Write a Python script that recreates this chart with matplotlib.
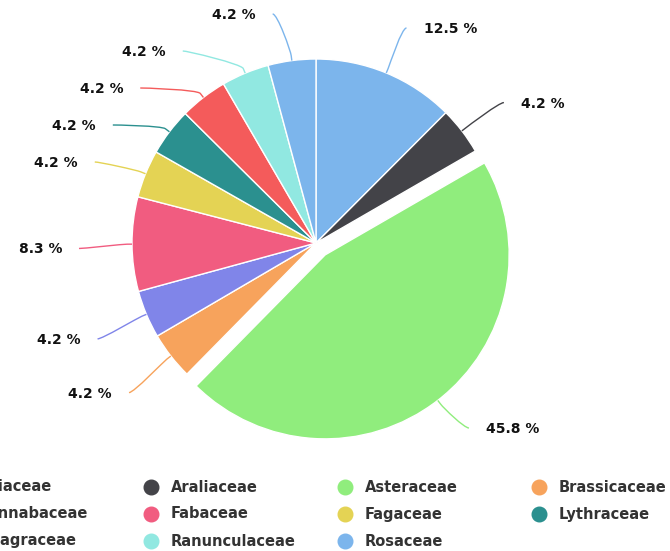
import numpy as np
import matplotlib
matplotlib.use("Agg")
import matplotlib.pyplot as plt
from matplotlib.path import Path
from matplotlib.patches import PathPatch

# share of species per plant family (%), clockwise from 12 o'clock
families = ["Apiaceae", "Araliaceae", "Asteraceae", "Brassicaceae", "Cannabaceae",
            "Fabaceae", "Fagaceae", "Lythraceae", "Onagraceae", "Ranunculaceae", "Rosaceae"]
shares = [12.5, 4.2, 45.8, 4.2, 4.2, 8.3, 4.2, 4.2, 4.2, 4.2, 4.2]
colors = ["#7cb5ec", "#434348", "#90ed7d", "#f7a35c", "#8085e9", "#f15c80",
          "#e4d354", "#2b908f", "#f45b5b", "#91e8e1", "#7cb5ec"]
sliced = "Asteraceae"

W, H = 670, 551
CX, CY, R = 316, 243, 184          # pixel coords, y measured from top
OFFSET = 15                        # sliced slice offset
LAB_CY, LAB_R, GAP = 247, 237, 37  # label circle and min label spacing
LAB_TOP, LAB_BOT = 14, 428

fig = plt.figure(figsize=(W / 100, H / 100), dpi=100)
ax = fig.add_axes([0, 0, 1, 1])
wedges, _ = ax.pie(shares, colors=colors, startangle=90, counterclock=False,
                   center=(CX, H - CY), radius=R,
                   explode=[OFFSET if f == sliced else 0 for f in families],
                   wedgeprops=dict(edgecolor="white", linewidth=1))
ax.set_xlim(0, W); ax.set_ylim(0, H); ax.axis("off")


def spread(nat, lo, hi):
    # place labels near their natural y with at least GAP between them
    def start(g):
        s = np.mean([nat[j] - GAP * k for k, j in enumerate(g)])
        return min(max(s, lo), hi - GAP * (len(g) - 1))
    groups = []
    for i in np.argsort(nat):
        groups.append([i])
        while len(groups) > 1 and start(groups[-2]) + GAP * len(groups[-2]) > start(groups[-1]):
            last = groups.pop(); groups[-1] += last
    pos = {}
    for g in groups:
        s = start(g)
        for k, j in enumerate(g):
            pos[j] = s + GAP * k
    return pos


mids = [np.radians((w.theta1 + w.theta2) / 2) for w in wedges]
for side in (1, -1):
    idx = [i for i, m in enumerate(mids) if (np.cos(m) > 1e-9) == (side == 1)]
    nat = [LAB_CY - LAB_R * np.sin(mids[i]) for i in idx]
    pos = spread(nat, LAB_TOP, LAB_BOT)
    for k, i in enumerate(idx):
        yd = pos[k]
        dx = np.sqrt(max(LAB_R ** 2 - (yd - LAB_CY) ** 2, 0))
        xe, ye = CX + side * dx, H - yd
        cx, cy = wedges[i].center
        m = mids[i]
        base = np.array([cx + R * np.cos(m), cy + R * np.sin(m)])
        brk = np.array([cx + (R + 5) * np.cos(m), cy + (R + 5) * np.sin(m)])
        c2 = 2 * brk - base
        verts = [(xe, ye), (xe - side * 5, ye), tuple(c2), tuple(brk), tuple(base)]
        codes = [Path.MOVETO, Path.CURVE4, Path.CURVE4, Path.CURVE4, Path.LINETO]
        ax.add_patch(PathPatch(Path(verts, codes), fill=False, edgecolor=colors[i], lw=1))
        ax.text(xe + side * 17, ye - 1, f"{shares[i]} %", ha="left" if side == 1 else "right",
                va="center", fontsize=10, fontweight="bold", color="#111")

# legend, 4 items per row (left column is cut off by the frame, as in the source)
for i, (f, c) in enumerate(zip(families, colors)):
    x = -43 + (i % 4) * 194
    y = H - (487 + (i // 4) * 27)
    ax.plot(x, y, "o", ms=10.5, color=c, clip_on=False)
    ax.text(x + 20, y, f, ha="left", va="center", fontsize=10.5, fontweight="bold",
            color="#333", clip_on=False)

fig.savefig("out.png", dpi=100)
